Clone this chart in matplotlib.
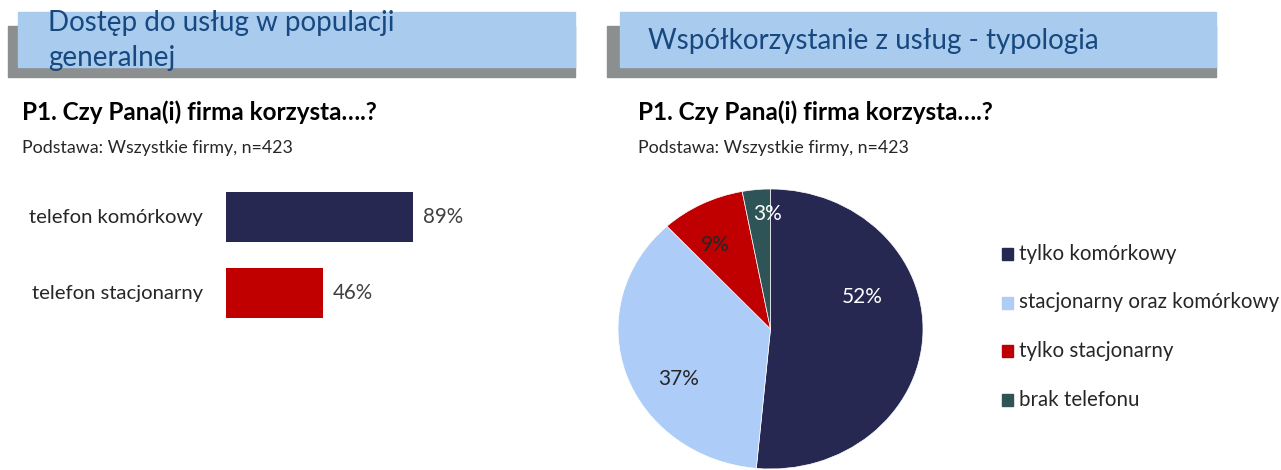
import matplotlib
matplotlib.use("Agg")
import matplotlib.pyplot as plt
from matplotlib.patches import Rectangle

# dane
bar_labels = ["telefon komórkowy", "telefon stacjonarny"]
bar_values = [89, 46]
bar_colors = ["#262852", "#C00000"]

pie_labels = ["tylko komórkowy", "stacjonarny oraz komórkowy",
              "tylko stacjonarny", "brak telefonu"]
pie_values = [52, 37, 9, 3]
pie_colors = ["#262852", "#ADCDF8", "#C00000", "#2E5458"]
pie_text_colors = ["white", "#262626", "#262626", "white"]
# polozenie etykiet procentowych w ukladzie kola (jak w Excelu)
pie_label_pos = [(0.60, 0.23), (-0.60, -0.36), (-0.36, 0.60), (-0.02, 0.82)]

W, H = 1281, 470
plt.rcParams["font.family"] = ["Lato", "DejaVu Sans"]

fig = plt.figure(figsize=(W / 100, H / 100), dpi=100)
fig.patch.set_facecolor("white")


def fx(x):
    return x / W


def fy(y):
    return 1 - y / H


def box(x0, y0, x1, y1, color):
    fig.patches.append(Rectangle((fx(x0), fy(y1)), fx(x1) - fx(x0), fy(y0) - fy(y1),
                                 transform=fig.transFigure, color=color, zorder=0))


# naglowki
grey = "#8B8F90"
blue = "#A9CBEE"
title_color = "#17487F"
box(8, 26, 575, 77, grey)
box(18, 12, 575, 67, blue)
box(607, 26, 1216, 77, grey)
box(620, 12, 1216, 67, blue)

fig.text(fx(48), fy(23), "Dostęp do usług w populacji", fontsize=20,
         color=title_color, va="center", ha="left")
fig.text(fx(48), fy(58), "generalnej", fontsize=20,
         color=title_color, va="center", ha="left")
fig.text(fx(648), fy(41), "Współkorzystanie z usług - typologia", fontsize=20,
         color=title_color, va="center", ha="left")

for x in (22, 638):
    fig.text(fx(x), fy(112), "P1. Czy Pana(i) firma korzysta….?", fontsize=17.5,
             fontweight="bold", color="black", va="center", ha="left")
    fig.text(fx(x), fy(148), "Podstawa: Wszystkie firmy, n=423", fontsize=12.8,
             color="#262626", va="center", ha="left")

# wykres slupkowy
ax = fig.add_axes([fx(226), fy(331), fx(436) - fx(226), fy(179) - fy(331)])
ypos = list(range(len(bar_values)))
ax.barh(ypos, bar_values, height=50 / 76, color=bar_colors)
ax.set_xlim(0, 100)
ax.set_ylim(1.5, -0.5)
ax.axis("off")
for y, v, lab in zip(ypos, bar_values, bar_labels):
    ax.text(v + 5, y, f"{v}%", va="center", ha="left", fontsize=14.8, color="#404040")
    ax.text(-11, y, lab, va="center", ha="right", fontsize=14.6, color="#262626")

# wykres kolowy
axp = fig.add_axes([fx(618), fy(469), fx(923) - fx(618), fy(189) - fy(469)])
wedges, texts = axp.pie(pie_values, colors=pie_colors, startangle=90,
                        counterclock=False, labels=[f"{v}%" for v in pie_values],
                        labeldistance=0.62, textprops={"fontsize": 15},
                        wedgeprops={"linewidth": 0.5, "edgecolor": "white"})
for t, c, p in zip(texts, pie_text_colors, pie_label_pos):
    t.set_color(c)
    t.set_position(p)
    t.set_ha("center")
    t.set_va("center")
axp.set_aspect("auto")
axp.set_xlim(-1, 1)
axp.set_ylim(-1, 1)

# legenda
for i, (lab, col) in enumerate(zip(pie_labels, pie_colors)):
    yy = 254 + i * 48.5
    box(1002, yy - 6, 1013, yy + 6, col)
    fig.text(fx(1019), fy(yy), lab, fontsize=14.8, color="#262626",
             va="center", ha="left")

fig.savefig("out.png", dpi=100)
